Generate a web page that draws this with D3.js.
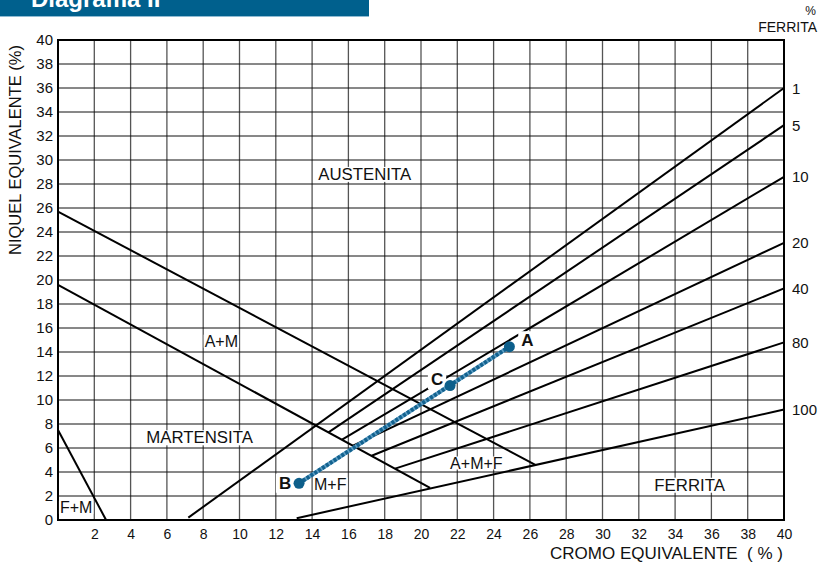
<!DOCTYPE html>
<html><head><meta charset="utf-8">
<script src="https://cdn.jsdelivr.net/npm/d3@7"></script>
<style>
html,body{margin:0;padding:0;background:#fff;}
svg{display:block;font-family:"Liberation Sans",Arial,sans-serif;}
</style></head>
<body>
<svg id="chart" width="820" height="568"></svg>
<script>
// ---------- data ----------
const xTickValues = [2,4,6,8,10,12,14,16,18,20,22,24,26,28,30,32,34,36,38,40];
const yTickValues = [0,2,4,6,8,10,12,14,16,18,20,22,24,26,28,30,32,34,36,38,40];

// phase boundaries (Cr eq, Ni eq)
const boundaryNames = ["F+M", "A+M superior", "A+M inferior"];
const boundaryCr1 = [0, 0, 0];
const boundaryNi1 = [7.5, 25.7, 19.6];
const boundaryCr2 = [2.65, 26.3, 20.5];
const boundaryNi2 = [0, 4.6, 2.68];

// iso-ferrite lines (end at Cr eq = 40)
const ferriteLabels = ["1", "5", "10", "20", "40", "80", "100"];
const ferriteStartCr = [7.18, 14.9, 15.65, 16.25, 17.28, 18.57, 13.15];
const ferriteStartNi = [0.2, 7.3, 6.69, 6.19, 5.35, 4.28, 0.15];
const ferriteEndCr = [40, 40, 40, 40, 40, 40, 40];
const ferriteEndNi = [36, 32.9, 28.6, 23.1, 19.3, 14.8, 9.2];

// points on the mixing line
const pointNames = ["A", "B", "C"];
const pointCr = [24.87, 13.28, 21.6];
const pointNi = [14.44, 3.06, 11.2];

// region labels
const regionNames = ["AUSTENITA", "A+M", "MARTENSITA", "F+M", "M+F", "A+M+F", "FERRITA"];
const regionCr = [16.9, 9, 7.8, 1.0, 15.0, 23.05, 34.8];
const regionNi = [28.8, 14.9, 6.85, 1.05, 3.0, 4.75, 2.9];

// ---------- layout ----------
const svg = d3.select("#chart");
const x = d3.scaleLinear().domain([0, 40]).range([58, 784]);
const y = d3.scaleLinear().domain([0, 40]).range([520, 40]);

// title bar
svg.append("rect").attr("x", 0).attr("y", 0).attr("width", 369).attr("height", 16).attr("fill", "#00608d");
svg.append("line").attr("x1", 0).attr("x2", 369).attr("y1", 16.5).attr("y2", 16.5).attr("stroke", "#8fbbd3").attr("stroke-width", 1);
svg.append("text").attr("x", 31).attr("y", 7).attr("fill", "#fff").attr("font-weight", "bold")
  .attr("font-size", 24).text("Diagrama II");

// grid
const grid = svg.append("g");
grid.selectAll("line.v").data(xTickValues.filter(d => d < 40)).enter().append("line")
  .attr("x1", d => x(d)).attr("x2", d => x(d)).attr("y1", y(40)).attr("y2", y(0))
  .attr("stroke", "#555").attr("stroke-width", 1.3);
grid.selectAll("line.h").data(yTickValues.filter(d => d > 0 && d < 40)).enter().append("line")
  .attr("x1", x(0)).attr("x2", x(40)).attr("y1", d => y(d)).attr("y2", d => y(d))
  .attr("stroke", "#111").attr("stroke-width", 1);

// axes
const xAxis = d3.axisBottom(x).tickValues(xTickValues).tickSize(0).tickPadding(9);
const yAxis = d3.axisLeft(y).tickValues(yTickValues).tickSize(0).tickPadding(5);
const gx = svg.append("g").attr("transform", `translate(0,${y(0)})`).call(xAxis);
const gy = svg.append("g").attr("transform", `translate(${x(0)},0)`).call(yAxis);
[gx, gy].forEach(g => {
  g.select(".domain").remove();
  g.selectAll("text").attr("fill", "#111")
    .attr("font-family", "Liberation Sans, Arial, sans-serif");
});
gx.selectAll("text").attr("font-size", 14).attr("dy", "0.71em");
gy.selectAll("text").attr("font-size", 15);

// frame
svg.append("rect").attr("x", x(0)).attr("y", y(40)).attr("width", x(40) - x(0)).attr("height", y(0) - y(40))
  .attr("fill", "none").attr("stroke", "#000").attr("stroke-width", 2);

// axis titles
svg.append("text").attr("transform", "translate(21,150) rotate(-90)")
  .attr("text-anchor", "middle").attr("font-size", 16.5).attr("fill", "#111")
  .text("NIQUEL EQUIVALENTE (%)");
svg.append("text").attr("x", 783).attr("y", 559).attr("text-anchor", "end")
  .attr("font-size", 17).attr("fill", "#111").style("white-space", "pre")
  .text("CROMO EQUIVALENTE  ( % )");

// ferrite header
svg.append("text").attr("x", 816).attr("y", 15).attr("text-anchor", "end").attr("font-size", 12).attr("fill", "#111").text("%");
svg.append("text").attr("x", 817).attr("y", 32).attr("text-anchor", "end").attr("font-size", 14).attr("fill", "#111").text("FERRITA");

// region labels (white background)
const regions = regionNames.map((n, i) => ({n, cr: regionCr[i], ni: regionNi[i]}));
regions.forEach(r => {
  const g = svg.append("g");
  const fs = (r.n.length > 5) ? 16.8 : 16;
  const t = g.append("text").attr("x", x(r.cr)).attr("y", y(r.ni)).attr("text-anchor", "middle")
    .attr("dominant-baseline", "central").attr("font-size", fs).attr("fill", "#111").text(r.n);
  const bb = t.node().getBBox();
  g.insert("rect", "text").attr("x", bb.x - 1).attr("y", bb.y + 2).attr("width", bb.width + 2).attr("height", bb.height - 4).attr("fill", "#fff");
});

// boundaries
const lines = svg.append("g").attr("stroke", "#000").attr("stroke-width", 2).attr("fill", "none");
boundaryNames.forEach((n, i) => {
  lines.append("line").attr("x1", x(boundaryCr1[i])).attr("y1", y(boundaryNi1[i]))
    .attr("x2", x(boundaryCr2[i])).attr("y2", y(boundaryNi2[i]));
});
ferriteLabels.forEach((n, i) => {
  lines.append("line").attr("x1", x(ferriteStartCr[i])).attr("y1", y(ferriteStartNi[i]))
    .attr("x2", x(ferriteEndCr[i])).attr("y2", y(ferriteEndNi[i]));
  svg.append("text").attr("x", x(40) + 8).attr("y", y(ferriteEndNi[i])).attr("dominant-baseline", "central")
    .attr("font-size", 15).attr("fill", "#111").text(n);
});

// point labels with white boxes
const pts = pointNames.map((n, i) => ({n, cr: pointCr[i], ni: pointNi[i]}));
const labelOffsets = {A: [18, -6], B: [-14, 0], C: [-13, -6]};
pts.forEach(p => {
  const o = labelOffsets[p.n];
  const g = svg.append("g");
  const t = g.append("text").attr("x", x(p.cr) + o[0]).attr("y", y(p.ni) + o[1])
    .attr("text-anchor", "middle").attr("dominant-baseline", "central")
    .attr("font-size", 17).attr("font-weight", "bold").attr("fill", "#111").text(p.n);
  const bb = t.node().getBBox();
  g.insert("rect", "text").attr("x", bb.x - 3).attr("y", bb.y).attr("width", bb.width + 6).attr("height", bb.height).attr("fill", "#fff");
});

// mixing line (dotted blue)
const A = pts[0], B = pts[1];
svg.append("line").attr("x1", x(B.cr)).attr("y1", y(B.ni)).attr("x2", x(A.cr)).attr("y2", y(A.ni))
  .attr("stroke", "#5d9ec4").attr("stroke-width", 4);
svg.append("line").attr("x1", x(B.cr)).attr("y1", y(B.ni)).attr("x2", x(A.cr)).attr("y2", y(A.ni))
  .attr("stroke", "#13628f").attr("stroke-width", 4).attr("stroke-dasharray", "3,1.6");
svg.selectAll("circle.pt").data(pts).enter().append("circle")
  .attr("cx", d => x(d.cr)).attr("cy", d => y(d.ni)).attr("r", 5.5).attr("fill", "#0d5f8b");
</script>
</body></html>
